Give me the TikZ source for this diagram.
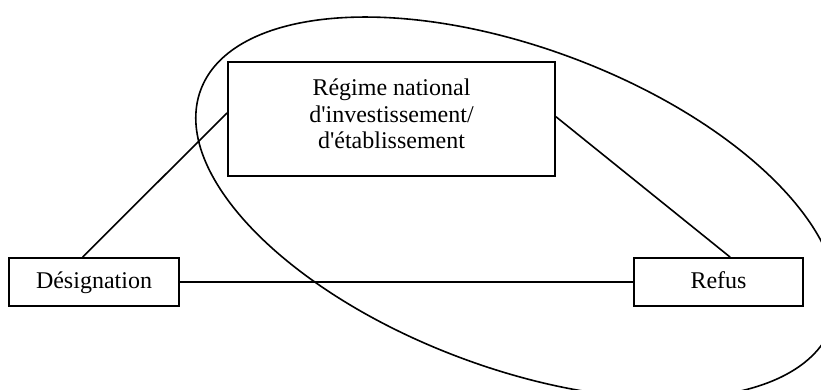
\documentclass[tikz,border=0pt]{standalone}
\usepackage{fontspec}
\setmainfont{Liberation Serif}
\usetikzlibrary{calc}
\begin{document}
\begin{tikzpicture}[x=1pt,y=-1pt,
  txt/.style={font=\fontsize{24}{26.5}\selectfont},
  box/.style={draw, line width=1.8pt, inner sep=0pt, txt},
  conn/.style={line width=1.6pt}]
\useasboundingbox (0,0) rectangle (821,390);
\clip (0,0) rectangle (821,390);
% boxes
\node[box, minimum width=327pt, minimum height=114pt] (reg) at (391.5,119) {};
\node[txt, align=center, inner sep=0pt] (regtxt) at (391.5,114)
  {Régime national\\d\textquotesingle investissement/\\d\textquotesingle établissement};
\node[box, minimum width=170pt, minimum height=48pt, text height=17pt, text depth=5pt] (des) at (94,282) {Désignation};
\node[box, minimum width=169pt, minimum height=48pt, text height=17pt, text depth=5pt] (ref) at (718.5,282) {Refus};
% connectors
\coordinate (desTop) at ($(des.north west)!0.434!(des.north east)$);
\coordinate (regL) at ($(reg.north west)!0.447!(reg.south west)$);
\coordinate (regR) at ($(reg.north east)!0.48!(reg.south east)$);
\coordinate (refTop) at ($(ref.north west)!0.568!(ref.north east)$);
\draw[conn] (desTop) -- (regL);
\draw[conn] (regR) -- (refTop);
\draw[conn] (des.east) -- (ref.west);
% ellipse
\draw[conn, rotate around={-20.5:(516.4,207.8)}] (516.4,207.8) ellipse [x radius=337pt, y radius=160pt];
\end{tikzpicture}
\end{document}
